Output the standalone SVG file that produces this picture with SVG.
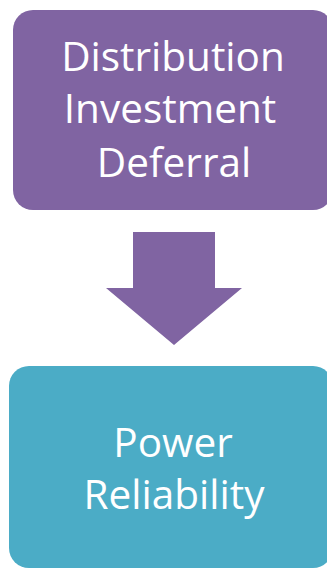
<svg xmlns="http://www.w3.org/2000/svg" width="327" height="570" viewBox="0 0 327 570">
<style>
.lbl{font-family:"Open Sans","Noto Sans",sans-serif;font-size:40.5px;fill:#ffffff;text-anchor:middle}
</style>
<rect width="327" height="570" fill="#ffffff"/>
<g id="node-deferral">
<rect x="13" y="10" width="320" height="200" rx="20" ry="20" fill="#8064A2"/>
<text class="lbl" x="173" y="71">Distribution</text>
<text class="lbl" x="170" y="123">Investment</text>
<text class="lbl" x="174" y="177">Deferral</text>
</g>
<g id="connectors">
<polygon points="133,232 215,232 215,288 242,288 174,345 106,288 133,288" fill="#8064A2"/>
</g>
<g id="node-reliability">
<rect x="9" y="366" width="324" height="202" rx="20" ry="20" fill="#4BACC6"/>
<text class="lbl" x="173" y="457">Power</text>
<text class="lbl" x="174" y="509">Reliability</text>
</g>
</svg>
